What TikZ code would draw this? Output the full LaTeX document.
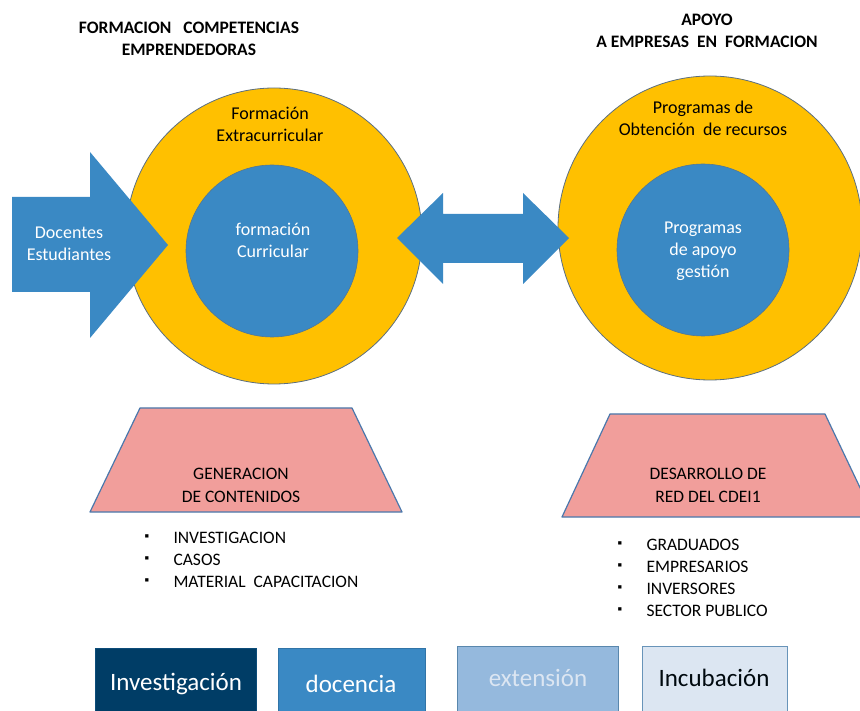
\documentclass[tikz,border=0pt]{standalone}
\usepackage{fontspec}
\setmainfont{Carlito}
\definecolor{ygold}{HTML}{FFC000}
\definecolor{mblue}{HTML}{3A89C4}
\definecolor{pinkf}{HTML}{F19E9B}
\definecolor{pinkd}{HTML}{4A78AC}
\definecolor{navy}{HTML}{003D66}
\definecolor{lblue}{HTML}{95B9DD}
\definecolor{pale}{HTML}{DCE6F2}
\definecolor{ring}{HTML}{5C6F80}
\tikzset{
  outer/.style={circle,fill=ygold,draw=ring,line width=0.8pt,inner sep=0pt},
  inner/.style={circle,fill=mblue,draw=ring!70!mblue,line width=0.6pt,inner sep=0pt},
  wtxt/.style={text=white,font=\fontsize{18}{22}\selectfont,align=center},
  btxt/.style={text=black,font=\fontsize{18}{22}\selectfont,align=center},
  ttl/.style={text=black,font=\bfseries\fontsize{17.5}{22}\selectfont,align=center},
  trap/.style={fill=pinkf,draw=pinkd,line width=1.2pt,line join=round},
  traptxt/.style={text=black,font=\fontsize{17.5}{23}\selectfont,align=center},
  blt/.style={text=black,font=\fontsize{17.5}{22}\selectfont,anchor=west},
  dot/.style={text=black,font=\fontsize{13}{22}\selectfont},
  cbox/.style={minimum height=80pt,anchor=north west,inner sep=0pt,line width=1.2pt},
  ctxt/.style={font=\fontsize{25}{28}\selectfont}
}
\begin{document}
\begin{tikzpicture}[x=1pt,y=-1pt]
\useasboundingbox (0,0) rectangle (860,711);
\clip (0,0) rectangle (860,711);
% titles
\node[ttl] (t1) at (189,39) {FORMACION\ \ \ COMPETENCIAS\\EMPRENDEDORAS};
\node[ttl] (t2) at (707,31) {APOYO\\A EMPRESAS\ \ EN\ \ FORMACION};
% left circles
\node[outer,minimum size=296pt] (lo) at (274,236) {};
\node[inner,minimum size=172pt] (li) at (272,251) {};
\node[btxt] (lot) at (270,124) {Formación\\Extracurricular};
\node[wtxt] (lit) at (273,240) {formación\\Curricular};
% right circles
\node[outer,minimum size=304pt] (ro) at (710,228) {};
\node[inner,minimum size=172pt] (ri) at (703,250) {};
\node[btxt] (rot) at (703,118) {Programas de\\Obtención\ \ de recursos};
\node[wtxt] (rit) at (703,251) {Programas\\de apoyo\\gestión};
% left arrow
\fill[mblue] (12,197) -- (90,197) -- (90,152) -- (168,245) -- (90,338) -- (90,292) -- (12,292) -- cycle;
\node[wtxt] (doc) at (69,244) {Docentes\\Estudiantes};
% double arrow
\fill[mblue] (397,238) -- (443,193) -- (443,214) -- (523,214) -- (523,193) -- (569,238)
  -- (523,284) -- (523,263) -- (443,263) -- (443,284) -- cycle;
% trapezoids
\draw[trap] (140,408) -- (352,408) -- (402,512) -- (90,512) -- cycle;
\node[traptxt] (gen) at (241,485) {GENERACION\\DE CONTENIDOS};
\draw[trap] (610,414) -- (825,414) -- (874,517) -- (562,517) -- cycle;
\node[traptxt] (des) at (708,485) {DESARROLLO DE\\RED DEL CDEI1};
% bullet lists
\foreach \y/\t [count=\i] in {538/INVESTIGACION,560/CASOS,582/MATERIAL\ \ CAPACITACION}{
  \node[dot] (lb\i) at (147,\y) {▪};
  \node[blt] (lt\i) at (170,\y) {\t};
}
\foreach \y/\t [count=\i] in {545/GRADUADOS,567/EMPRESARIOS,589/INVERSORES,611/SECTOR PUBLICO}{
  \node[dot] (rb\i) at (620,\y) {▪};
  \node[blt] (rt\i) at (643,\y) {\t};
}
% bottom boxes
\node[cbox,fill=navy,draw=navy!80!mblue,minimum width=161pt] (b1) at (95,648) {};
\node[ctxt,text=white] (b1t) at (176,684) {Investigación};
\node[cbox,fill=mblue,draw=mblue!85!black,minimum width=147pt] (b2) at (278,648) {};
\node[ctxt,text=white] (b2t) at (351,684) {docencia};
\node[cbox,fill=lblue,draw=lblue!60!navy,minimum width=161pt] (b3) at (457,646) {};
\node[ctxt,text=pale] (b3t) at (538,678) {extensión};
\node[cbox,fill=pale,draw=lblue!70!navy,minimum width=145pt] (b4) at (642,646) {};
\node[ctxt,text=black!85!navy] (b4t) at (714,678) {Incubación};
\end{tikzpicture}
\end{document}
